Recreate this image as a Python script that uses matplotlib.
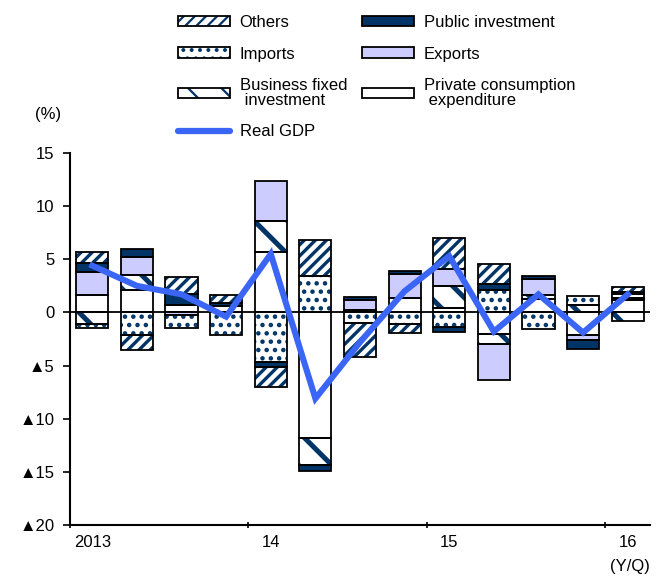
import numpy as np
import matplotlib
matplotlib.use("Agg")
import matplotlib.pyplot as plt
from matplotlib.patches import Patch
from matplotlib.lines import Line2D

plt.rcParams['font.family'] = ['Liberation Sans', 'DejaVu Sans']
plt.rcParams['font.size'] = 12
plt.rcParams['hatch.linewidth'] = 1.6

# contributions to real GDP growth (annualised q/q, %)
quarters = ["2013", "", "", "", "14", "", "", "", "15", "", "", "", "16"]
private_cons = [1.6, 2.07, 0.7, 0.6, 5.7, -11.8, 0.25, 1.38, 0.4, -2.0, 1.3, -2.16, 1.15]
business_inv = [-1.05, 1.41, 0.0, 0.0, 2.9, -2.6, 0.0, 0.0, 2.07, -0.95, 0.3, 0.66, -0.8]
exports = [2.2, 1.72, -0.2, 0.0, 3.8, 0.0, 0.95, 2.26, 1.63, -3.45, 1.57, -0.47, 0.25]
imports = [-0.4, -2.16, -1.3, -2.1, -4.7, 3.4, -1.0, -1.07, -1.38, 2.15, -1.53, 0.84, 0.3]
public_inv = [0.85, 0.73, 1.05, 0.25, -0.4, -0.5, 0.25, 0.3, -0.42, 0.55, 0.22, -0.8, 0.2]
others = [1.0, -1.41, 1.56, 0.75, -1.9, 3.4, -3.2, -0.88, 2.9, 1.9, 0.0, 0.0, 0.5]
real_gdp = [4.4, 2.5, 1.7, -0.4, 5.5, -8.1, -2.8, 2.0, 5.3, -1.8, 1.7, -1.9, 1.7]

navy = '#003366'
lav = '#ccccff'
blue = '#3b66f5'

# stacking order from zero outwards: (label, values, face, hatch, hatch lw)
series = [
    ("Private consumption\n expenditure", private_cons, 'white', None, 1.0),
    ("Business fixed\n investment", business_inv, 'white', '\\', 3.6),
    ("Exports", exports, lav, None, 1.0),
    ("Imports", imports, 'white', '..', 2.0),
    ("Public investment", public_inv, navy, None, 1.0),
    ("Others", others, 'white', '///', 2.4),
]


def set_hlw(p, lw):
    # per-patch hatch width where matplotlib supports it
    if hasattr(p, 'set_hatch_linewidth'):
        p.set_hatch_linewidth(lw)


fig = plt.figure(figsize=(6.57, 5.76), dpi=100)
ax = fig.add_axes([70/657, 1-525/576, 580/657, 372/576])

x = np.arange(len(quarters))
w = 0.72
pos = np.zeros(len(x))
neg = np.zeros(len(x))
handles = {}
for label, vals, face, hatch, hlw in series:
    v = np.array(vals)
    bottom = np.where(v >= 0, pos, neg)
    m = v != 0
    bars = ax.bar(x[m], v[m], w, bottom=bottom[m], color=face, hatch=hatch,
                  edgecolor=navy, linewidth=0, zorder=2)
    for p in bars:
        set_hlw(p, hlw)
    ax.bar(x[m], v[m], w, bottom=bottom[m], fill=False,
           edgecolor='black', linewidth=1.3, zorder=3)
    hp = Patch(facecolor=face, hatch=hatch, edgecolor=navy, linewidth=0)
    set_hlw(hp, hlw)
    ho = Patch(fill=False, edgecolor='black', linewidth=1.3)
    handles[label] = (hp, ho)
    pos = pos + np.where(v > 0, v, 0)
    neg = neg + np.where(v < 0, v, 0)

ax.axhline(0, color='black', lw=1.3, zorder=4)
ax.plot(x, real_gdp, color=blue, lw=4.4, solid_joinstyle='miter', zorder=5)

ax.set_xlim(-0.5, 12.5)
ax.set_ylim(-20, 15)
ax.set_yticks(np.arange(-20, 16, 5))
ax.set_yticklabels([("▲" + str(-t)) if t < 0 else str(t) for t in range(-20, 16, 5)])
ax.set_xticks([-0.5, 3.5, 7.5, 11.5])
ax.set_xticklabels([])
ax.set_xticks(x, quarters, minor=True)
ax.tick_params(axis='x', which='minor', length=0, pad=7, labelsize=12)
ax.tick_params(axis='x', which='major', length=4, width=1.2, direction='inout')
ax.tick_params(axis='y', length=5, width=1.2, direction='out', pad=6, labelsize=12)
for s in ['top', 'right']:
    ax.spines[s].set_visible(False)
for s in ['left', 'bottom']:
    ax.spines[s].set_linewidth(1.5)

fig.text(48/657, 1-115/576, "(%)", ha='center', va='center', fontsize=12)
fig.text(630/657, 1-566/576, "(Y/Q)", ha='center', va='center', fontsize=12)

order = ["Others", "Imports", "Business fixed\n investment", "Real GDP",
         "Public investment", "Exports", "Private consumption\n expenditure"]
hl = []
for name in order:
    if name == "Real GDP":
        hl.append(Line2D([], [], color=blue, lw=4.5, solid_capstyle='round'))
    else:
        hl.append(handles[name])
leg = fig.legend(hl, order, loc='upper left', bbox_to_anchor=(163/657, 1.0),
                 ncol=2, frameon=False, handlelength=3.1, handleheight=0.6,
                 labelspacing=1.0, columnspacing=0.9, handletextpad=0.6,
                 fontsize=12)
for t in leg.get_texts():
    t.set_linespacing(0.95)

fig.savefig("out.png", dpi=100)
